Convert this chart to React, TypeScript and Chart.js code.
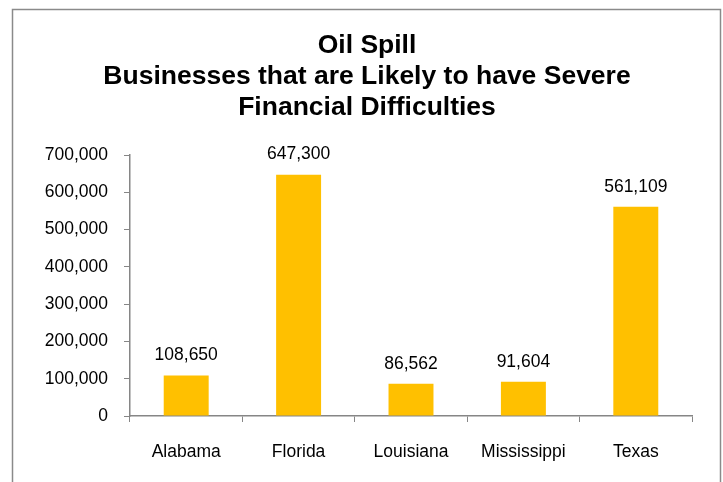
import React, { useEffect, useRef } from "react";
import { Chart, registerables } from "chart.js";

Chart.register(...registerables);

const titleLines = ["Oil Spill", "Businesses that are Likely to have Severe", "Financial Difficulties"];
const categories = ["Alabama", "Florida", "Louisiana", "Mississippi", "Texas"];
const businesses = [108650, 647300, 86562, 91604, 561109];
const yMin = 0;
const yMax = 700000;
const yStep = 100000;

const FONT = "'Liberation Sans', Arial, sans-serif";
const AXIS_GREY = "#868686";
const fmt = (v: number) => Number(v).toLocaleString("en-US");

const framePlugin = {
  id: "frameAndTitle",
  beforeDraw(chart: any) {
    const ctx = chart.ctx;
    ctx.save();
    ctx.fillStyle = "#ffffff";
    ctx.fillRect(0, 0, chart.width, chart.height);
    ctx.strokeStyle = "#8a8a8a";
    ctx.lineWidth = 1.5;
    ctx.strokeRect(12.5, 9.5, 708, 520);
    ctx.fillStyle = "#000000";
    ctx.font = `bold 26.5px ${FONT}`;
    ctx.textAlign = "center";
    ctx.textBaseline = "middle";
    titleLines.forEach((t, i) => {
      ctx.fillText(t, 367, 46 + i * 31);
    });
    ctx.restore();
  },
  afterDatasetsDraw(chart: any) {
    const ctx = chart.ctx;
    const meta = chart.getDatasetMeta(0);
    ctx.save();
    ctx.fillStyle = "#000000";
    ctx.font = `17.5px ${FONT}`;
    ctx.textAlign = "center";
    ctx.textBaseline = "middle";
    meta.data.forEach((bar: any, i: number) => {
      ctx.fillText(fmt(businesses[i]), bar.x, bar.y - 20);
    });
    ctx.restore();
  },
};

export default function App() {
  const ref = useRef<HTMLCanvasElement | null>(null);
  useEffect(() => {
    document.body.style.margin = "0";
    if (!ref.current) return;
    const chart = new Chart(ref.current, {
      type: "bar",
      data: {
        labels: categories,
        datasets: [
          {
            data: businesses,
            backgroundColor: "#FFC000",
            borderWidth: 0,
            barPercentage: 0.4,
            categoryPercentage: 1,
          },
        ],
      },
      options: {
        animation: false,
        responsive: false,
        devicePixelRatio: 1,
        layout: { padding: { top: 155, right: 31, bottom: 0, left: 0 } },
        plugins: { legend: { display: false }, title: { display: false }, tooltip: { enabled: false } },
        scales: {
          x: {
            grid: { drawOnChartArea: false, drawTicks: true, tickLength: 6, color: AXIS_GREY, offset: true },
            border: { display: true, color: AXIS_GREY, width: 1.5 },
            ticks: { color: "#000", font: { family: FONT, size: 17.5 }, padding: 20, maxRotation: 0 },
            afterFit: (s: any) => {
              s.height = 66;
            },
          },
          y: {
            min: yMin,
            max: yMax,
            grid: { drawOnChartArea: false, drawTicks: true, tickLength: 6, color: AXIS_GREY },
            border: { display: true, color: AXIS_GREY, width: 1.5 },
            ticks: {
              stepSize: yStep,
              color: "#000",
              font: { family: FONT, size: 17.5 },
              padding: 16,
              callback: (v: any) => fmt(v),
            },
            afterFit: (s: any) => {
              s.width = 130;
            },
          },
        },
      },
      plugins: [framePlugin],
    });
    return () => chart.destroy();
  }, []);
  return <canvas ref={ref} width={723} height={482} style={{ display: "block" }} />;
}
